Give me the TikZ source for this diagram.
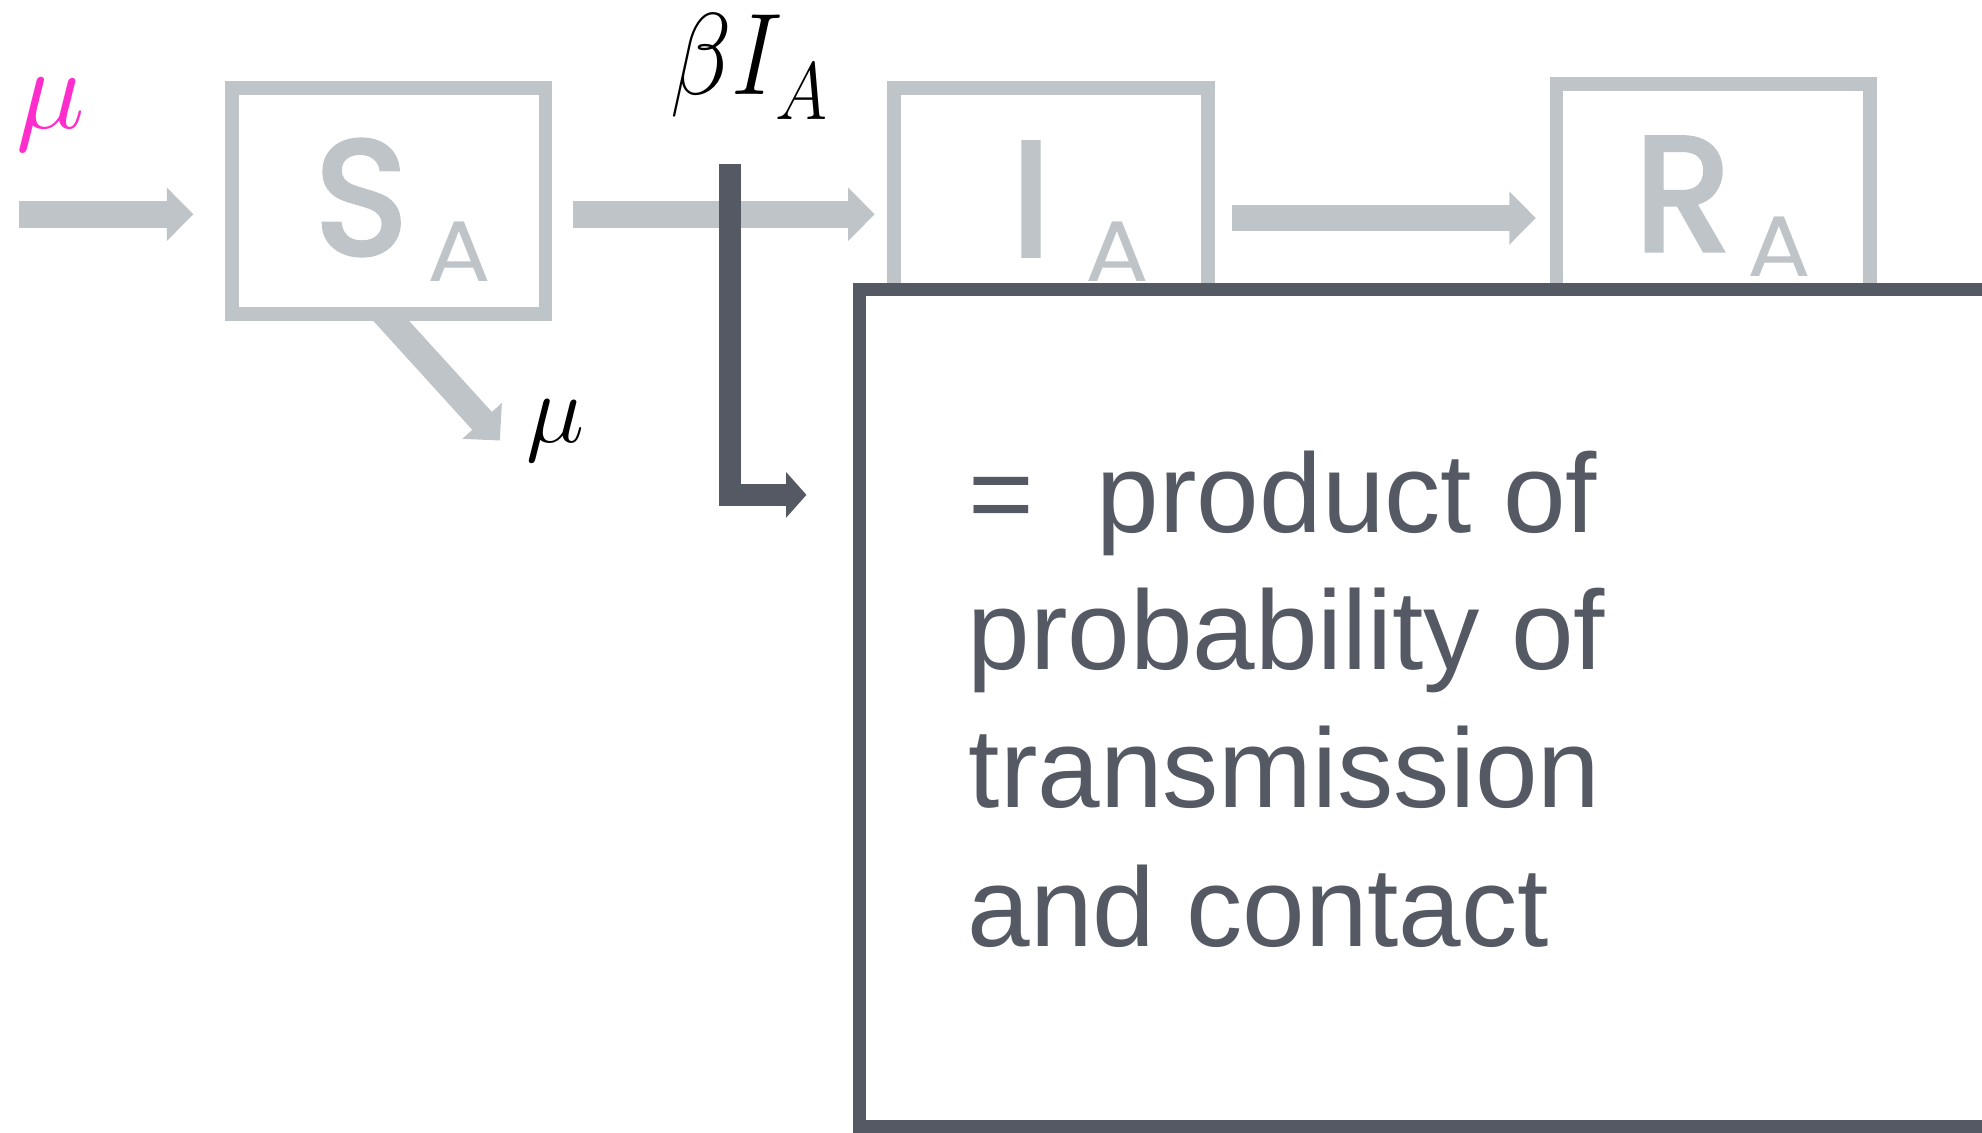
\RequirePackage{fix-cm}
\documentclass[tikz,border=0pt]{standalone}
\usepackage{graphicx}
\usepackage{fontspec}
\setmainfont{Liberation Sans}
\newfontfamily\boxfont{Poppins}[FakeStretch=0.97,FakeBold=3]
\newfontfamily\subfont{Poppins}[FakeStretch=1.1]
\usetikzlibrary{arrows.meta,backgrounds,calc}
\definecolor{boxgrey}{HTML}{BFC4C8}
\definecolor{slate}{HTML}{545963}
\definecolor{hotpink}{HTML}{FF2DCC}

\begin{document}
\begin{tikzpicture}[x=0.5pt,y=-0.5pt,
  compartment/.style={draw=boxgrey, line width=5.4pt, fill=white,
    minimum width=124.1pt, minimum height=89.6pt, inner sep=0pt},
  bigletter/.style={anchor=base west, inner sep=0pt, text=boxgrey,
    font=\boxfont\fontsize{64}{64}\selectfont},
  subletter/.style={anchor=base west, inner sep=0pt, text=boxgrey,
    font=\subfont\fontsize{34}{34}\selectfont},
  flow/.style={draw=boxgrey, line width=10.5pt,
    -{Triangle[length=10.5pt,width=20.5pt]}},
  force/.style={draw=slate, line width=8.5pt, line join=miter,
    -{Triangle[length=8pt,width=17.5pt]}},
  rate/.style={anchor=base west, inner sep=0pt,
    font=\fontsize{46}{46}\selectfont},
  noteline/.style={anchor=base west, inner sep=0pt, text=slate,
    font=\fontsize{44.5}{54.65}\selectfont}
]
\useasboundingbox (0,0) rectangle (1568,896);
\clip (0,0) rectangle (1568,896);

% compartments
\node[compartment] (S) at (307.5,159) {};
\node[compartment] (I) at (831.5,159) {};
\node[compartment] (R) at (1355.5,156) {};

\node[bigletter] (Sl) at (249,201) {S};
\node[subletter] (Ss) at (338,223) {A};
\node[bigletter] (Il) at (800,202) {I};
\node[subletter] (Is) at (858,223) {A};
\node[bigletter] (Rl) at (1293,198) {R};
\node[subletter] (Rs) at (1382,219) {A};

% death outflow leaves from under the S box
\begin{scope}[on background layer]
  \coordinate (death) at (395.5,348.5);
  \draw[flow] ($(S.south)+(-11.5,-15)$) -- (death);
\end{scope}

% births and transitions
\coordinate (birth) at (15,169.5);
\draw[flow, shorten >=12.5pt] (birth) -- ([yshift=-5.25pt]S.west);
\draw[flow, shorten <=8pt, shorten >=5pt] ([yshift=-5.25pt]S.east) -- ([yshift=-5.25pt]I.west);
\draw[flow, shorten <=7pt, shorten >=5.5pt] ([yshift=-6.75pt]I.east) -- ([yshift=-8.25pt]R.west);

% rate labels
\node[rate, text=hotpink] (mubirth) at (13,102) {$\mu$};
\node[rate, font=\fontsize{39}{39}\selectfont] (mudeath) at (416,350) {$\mu$};
\node[rate] (force) at (530,75) {\scalebox{0.87}[1]{$\beta I_{\raisebox{-3pt}{$\scriptstyle A$}}$}};

% pointer from the force of infection to its explanation
\coordinate (Ltop) at (577.5,130);
\coordinate (Ltip) at (638,391.5);
\draw[force] (Ltop) |- (Ltip);

% explanation panel
\node[draw=slate, line width=5pt, fill=white, minimum width=460pt,
      minimum height=331pt, inner sep=0pt] (note) at (1140,560) {};
\node[noteline] (l1) at (766,421) {=\ \ product of};
\node[noteline] (l2) at (765,530) {probability of};
\node[noteline] (l3) at (766,639) {transmission};
\node[noteline] (l4) at (765,749) {and contact};
\end{tikzpicture}
\end{document}
